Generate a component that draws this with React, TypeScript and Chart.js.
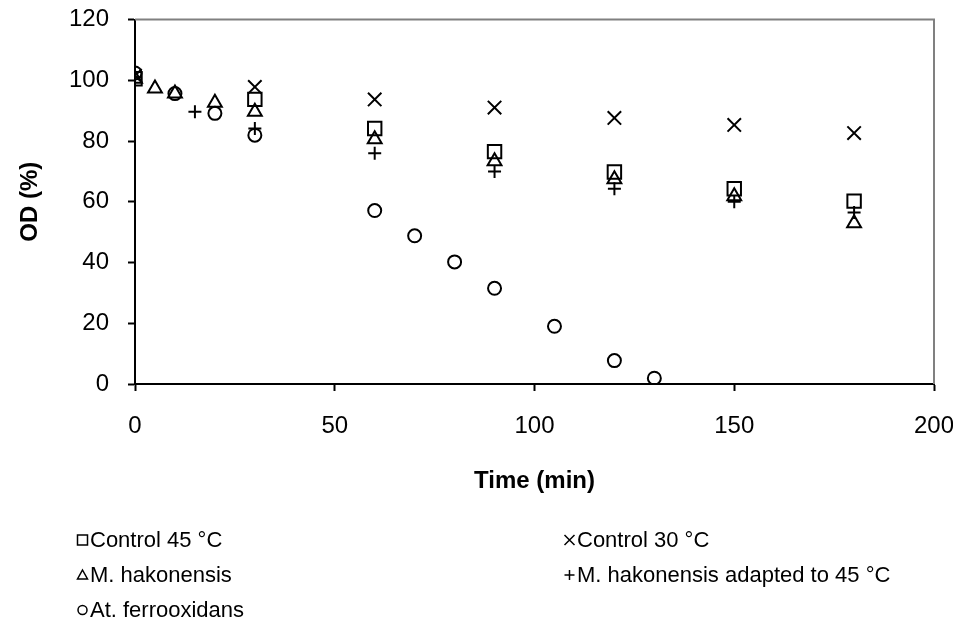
import React, { useEffect, useRef } from 'react';
import { Chart, registerables } from 'chart.js';

Chart.register(...registerables);

// ---- data ----
const seriesNames = [
  'Control 45 °C',
  'Control 30 °C',
  'M. hakonensis',
  'M. hakonensis adapted to 45 °C',
  'At. ferrooxidans',
];

const timeControl45 = [0, 30, 60, 90, 120, 150, 180];
const odControl45 = [100.5, 93.7, 84.1, 76.5, 69.8, 64.3, 60.2];

const timeControl30 = [0, 30, 60, 90, 120, 150, 180];
const odControl30 = [101.5, 97.8, 93.7, 91.0, 87.6, 85.3, 82.6];

const timeHakonensis = [0, 5, 10, 20, 30, 60, 90, 120, 150, 180];
const odHakonensis = [100.5, 97.3, 95.6, 92.6, 89.6, 80.6, 73.3, 67.4, 61.8, 52.9];

const timeAdapted = [0, 15, 30, 60, 90, 120, 150, 180];
const odAdapted = [101, 89.6, 84.1, 76.0, 70.0, 64.3, 60.0, 56.5];

const timeFerro = [0, 10, 20, 30, 60, 70, 80, 90, 105, 120, 130];
const odFerro = [102.4, 95.6, 89.1, 81.9, 57.1, 48.8, 40.2, 31.5, 19.0, 7.7, 1.9];

const xTitle = 'Time (min)';
const yTitle = 'OD (%)';

const FONT = '"Liberation Sans", Arial, Helvetica, sans-serif';

const toPoints = (xs: number[], ys: number[]) => xs.map((x, i) => ({ x, y: ys[i] }));

type Shape = 'rect' | 'crossRot' | 'triangle' | 'cross' | 'circle';
const shapes: Shape[] = ['rect', 'crossRot', 'triangle', 'cross', 'circle'];

function drawLegendMarker(ctx: CanvasRenderingContext2D, shape: Shape, cx: number, cy: number) {
  ctx.beginPath();
  const h = 5;
  if (shape === 'rect') {
    ctx.rect(cx - h, cy - h, 2 * h, 2 * h);
  } else if (shape === 'crossRot') {
    ctx.moveTo(cx - h, cy - h);
    ctx.lineTo(cx + h, cy + h);
    ctx.moveTo(cx + h, cy - h);
    ctx.lineTo(cx - h, cy + h);
  } else if (shape === 'cross') {
    ctx.moveTo(cx - h, cy);
    ctx.lineTo(cx + h, cy);
    ctx.moveTo(cx, cy - h);
    ctx.lineTo(cx, cy + h);
  } else if (shape === 'triangle') {
    ctx.moveTo(cx, cy - h);
    ctx.lineTo(cx + h, cy + h - 1);
    ctx.lineTo(cx - h, cy + h - 1);
    ctx.closePath();
  } else {
    ctx.arc(cx, cy, 4.5, 0, Math.PI * 2);
  }
  ctx.stroke();
}

const framePlugin = {
  id: 'frame',
  beforeDatasetsDraw(chart: any) {
    const { ctx, chartArea } = chart;
    ctx.save();
    ctx.strokeStyle = '#808080';
    ctx.lineWidth = 2;
    ctx.beginPath();
    ctx.moveTo(chartArea.left, chartArea.top);
    ctx.lineTo(chartArea.right, chartArea.top);
    ctx.lineTo(chartArea.right, chartArea.bottom);
    ctx.stroke();
    ctx.restore();
  },
};

const legendPlugin = {
  id: 'twoColLegend',
  afterDraw(chart: any) {
    const { ctx } = chart;
    ctx.save();
    ctx.font = `22px ${FONT}`;
    ctx.fillStyle = '#000';
    ctx.strokeStyle = '#000';
    ctx.lineWidth = 1.5;
    ctx.textAlign = 'left';
    ctx.textBaseline = 'middle';
    const colText = [82, 569];
    const rowY = [532, 567, 602];
    seriesNames.forEach((name, i) => {
      const col = i % 2;
      const row = Math.floor(i / 2);
      const tx = colText[col];
      const ty = rowY[row];
      drawLegendMarker(ctx, shapes[i], tx - 7.5, ty);
      ctx.fillText(name, tx, ty + 1);
    });
    ctx.restore();
  },
};

export default function App() {
  const canvasRef = useRef<HTMLCanvasElement | null>(null);

  useEffect(() => {
    if (!canvasRef.current) return;
    const common = {
      showLine: false,
      borderColor: '#000',
      backgroundColor: 'rgba(0,0,0,0)',
      pointBorderColor: '#000',
      pointBackgroundColor: 'rgba(0,0,0,0)',
      pointBorderWidth: 2,
      pointHoverRadius: 0,
    };
    const chart = new Chart(canvasRef.current, {
      type: 'scatter',
      data: {
        datasets: [
          { ...common, label: seriesNames[0], data: toPoints(timeControl45, odControl45), pointStyle: 'rect', pointRadius: 9.5 },
          { ...common, label: seriesNames[1], data: toPoints(timeControl30, odControl30), pointStyle: 'crossRot', pointRadius: 9.5 },
          { ...common, label: seriesNames[2], data: toPoints(timeHakonensis, odHakonensis), pointStyle: 'triangle', pointRadius: 8 },
          { ...common, label: seriesNames[3], data: toPoints(timeAdapted, odAdapted), pointStyle: 'cross', pointRadius: 6.5 },
          { ...common, label: seriesNames[4], data: toPoints(timeFerro, odFerro), pointStyle: 'circle', pointRadius: 6.5 },
        ],
      },
      options: {
        responsive: false,
        animation: false,
        events: [],
        layout: { padding: { left: 0, top: 8, right: 19, bottom: 113 } },
        plugins: {
          legend: { display: false },
          tooltip: { enabled: false },
        },
        scales: {
          x: {
            type: 'linear',
            min: 0,
            max: 200,
            ticks: {
              stepSize: 50,
              color: '#000',
              padding: 21,
              maxRotation: 0,
              font: { family: FONT, size: 24, lineHeight: 1.2 },
            },
            grid: {
              drawOnChartArea: false,
              drawTicks: true,
              tickLength: 7,
              tickColor: '#000',
              tickWidth: 2,
            },
            border: { color: '#000', width: 2 },
            title: {
              display: true,
              text: xTitle,
              color: '#000',
              font: { family: FONT, size: 24, weight: 'bold', lineHeight: 1.2 },
              padding: { top: 0, bottom: 8.6 },
            },
            afterFit: (s: any) => {
              s.height = 120;
              s.paddingLeft = 0;
              s.paddingRight = 0;
            },
          },
          y: {
            type: 'linear',
            min: 0,
            max: 120,
            ticks: {
              stepSize: 20,
              color: '#000',
              padding: 19,
              font: { family: FONT, size: 24, lineHeight: 1.2 },
            },
            grid: {
              drawOnChartArea: false,
              drawTicks: true,
              tickLength: 7,
              tickColor: '#000',
              tickWidth: 2,
            },
            border: { color: '#000', width: 2 },
            title: {
              display: true,
              text: yTitle,
              color: '#000',
              font: { family: FONT, size: 24, weight: 'bold', lineHeight: 1.2 },
              padding: { top: 7.6, bottom: 0 },
            },
            afterFit: (s: any) => {
              s.width = 127;
              s.paddingTop = 0;
              s.paddingBottom = 0;
            },
          },
        },
      } as any,
      plugins: [framePlugin, legendPlugin],
    });
    return () => chart.destroy();
  }, []);

  return (
    <div style={{ width: 945, height: 609 }}>
      <canvas ref={canvasRef} width={945} height={609} style={{ width: 945, height: 609 }} />
    </div>
  );
}
